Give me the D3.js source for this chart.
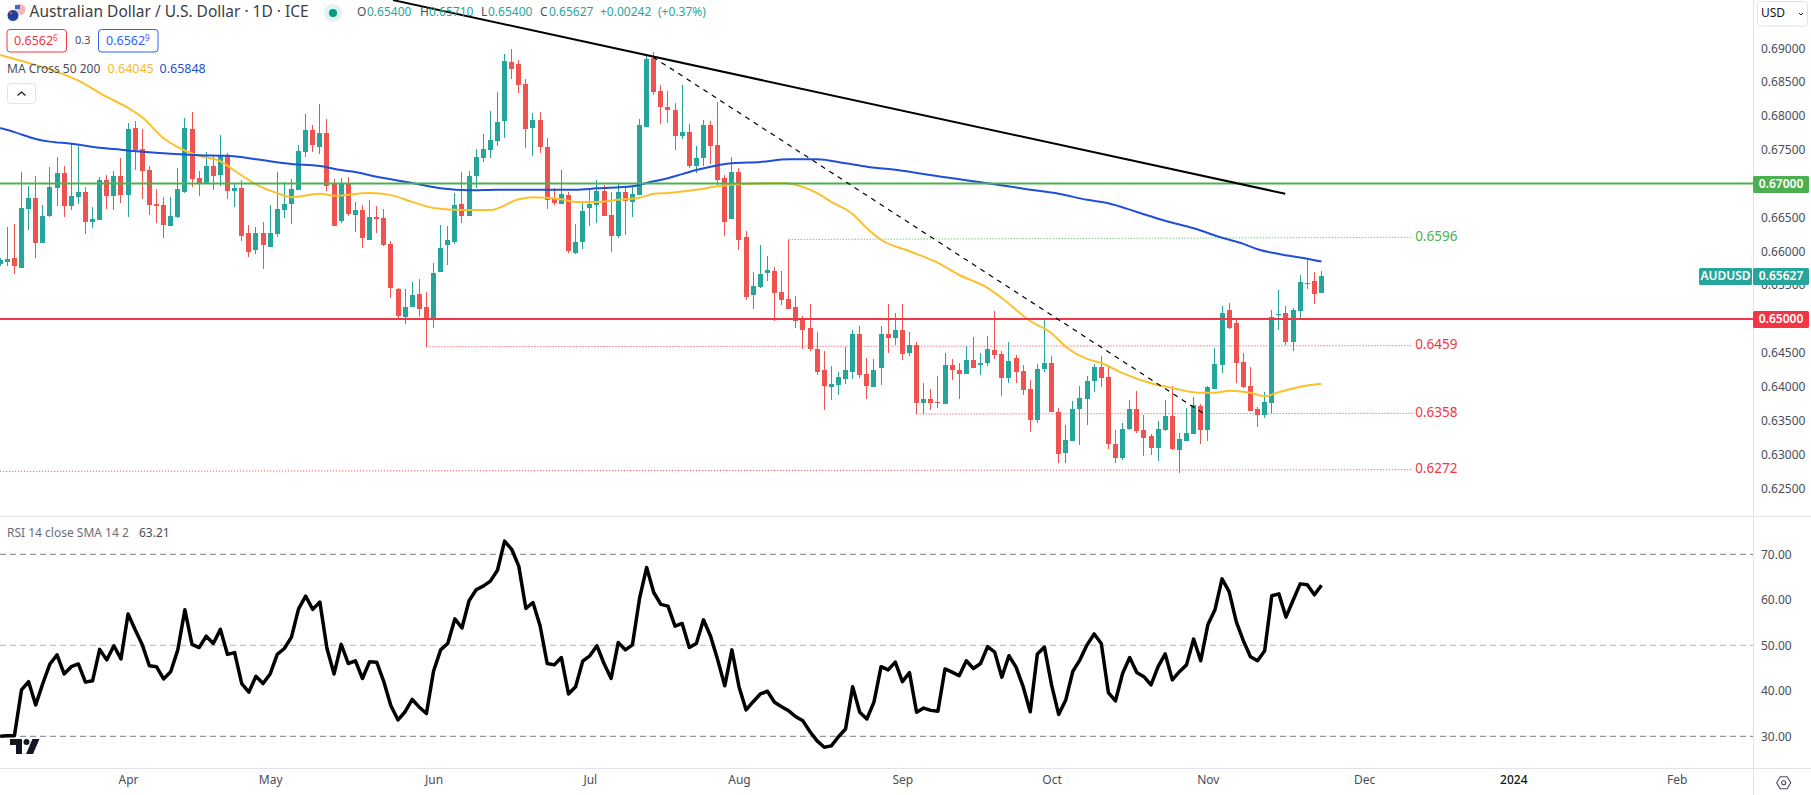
<!DOCTYPE html>
<html>
<head>
<meta charset="utf-8">
<script src="https://cdn.jsdelivr.net/npm/d3@7"></script>
<style>
    body { margin: 0; background: #fff; }
    svg { display: block; }
    text { font-family: "Noto Sans", sans-serif; }
    .domain { display: none; }
</style>
</head>
<body>
<div id="chart"></div>
<script>
//Daily candles, in units of 0.0001
const opens = [
    6581, 6584, 6590, 6576, 6663, 6679, 6612, 6652, 6694, 6716,
    6667, 6680, 6688, 6643, 6646, 6705, 6682, 6711, 6683, 6782,
    6751, 6720, 6670, 6668, 6638, 6651, 6688, 6781, 6708, 6700,
    6726, 6713, 6741, 6689, 6694, 6627, 6602, 6627, 6607, 6626,
    6661, 6670, 6691, 6747, 6779, 6754, 6775, 6701, 6645, 6700,
    6654, 6661, 6617, 6651, 6649, 6611, 6545, 6503, 6517, 6537,
    6517, 6500, 6570, 6610, 6614, 6670, 6652, 6711, 6738, 6750,
    6763, 6793, 6880, 6877, 6847, 6782, 6794, 6754, 6678, 6670,
    6683, 6598, 6614, 6664, 6669, 6689, 6654, 6623, 6688, 6673,
    6683, 6784, 6886, 6837, 6813, 6809, 6770, 6776, 6726, 6738,
    6787, 6757, 6708, 6648, 6717, 6621, 6536, 6547, 6568, 6571,
    6540, 6530, 6517, 6500, 6487, 6455, 6424, 6400, 6403, 6412,
    6422, 6478, 6419, 6400, 6427, 6478, 6472, 6484, 6450, 6462,
    6376, 6382, 6378, 6375, 6432, 6425, 6419, 6440, 6432, 6435,
    6454, 6448, 6413, 6443, 6423, 6397, 6351, 6426, 6435, 6363,
    6302, 6320, 6367, 6382, 6409, 6429, 6414, 6316, 6295, 6338,
    6367, 6336, 6327, 6310, 6336, 6357, 6307, 6320, 6330, 6372,
    6336, 6397, 6432, 6513, 6494, 6437, 6401, 6367, 6358, 6376,
    6506, 6509, 6466, 6512, 6553, 6556, 6538
];
const highs = [
    6590, 6636, 6640, 6717, 6697, 6711, 6668, 6725, 6739, 6726,
    6759, 6756, 6695, 6666, 6710, 6713, 6719, 6738, 6790, 6793,
    6781, 6726, 6692, 6680, 6680, 6723, 6797, 6806, 6719, 6747,
    6741, 6772, 6745, 6700, 6705, 6639, 6636, 6643, 6669, 6717,
    6703, 6707, 6757, 6803, 6787, 6818, 6796, 6707, 6709, 6710,
    6673, 6669, 6676, 6667, 6663, 6615, 6546, 6545, 6555, 6559,
    6540, 6582, 6639, 6638, 6686, 6717, 6719, 6751, 6773, 6807,
    6835, 6892, 6899, 6883, 6855, 6804, 6806, 6768, 6694, 6720,
    6688, 6641, 6672, 6692, 6706, 6698, 6688, 6700, 6697, 6695,
    6796, 6892, 6894, 6846, 6837, 6819, 6846, 6788, 6756, 6794,
    6793, 6821, 6713, 6739, 6723, 6630, 6570, 6610, 6593, 6577,
    6571, 6617, 6534, 6505, 6522, 6481, 6452, 6430, 6422, 6459,
    6484, 6489, 6443, 6441, 6489, 6522, 6509, 6522, 6481, 6466,
    6406, 6396, 6416, 6450, 6441, 6435, 6460, 6474, 6450, 6475,
    6512, 6453, 6466, 6447, 6432, 6410, 6434, 6502, 6445, 6369,
    6344, 6379, 6401, 6416, 6434, 6445, 6432, 6336, 6347, 6381,
    6394, 6358, 6330, 6350, 6381, 6401, 6332, 6369, 6385, 6375,
    6401, 6457, 6519, 6524, 6499, 6450, 6429, 6370, 6392, 6513,
    6543, 6519, 6516, 6565, 6590, 6569, 6571
];
const lows = [
    6578, 6578, 6566, 6576, 6632, 6590, 6612, 6651, 6667, 6651,
    6661, 6670, 6626, 6635, 6646, 6663, 6661, 6672, 6651, 6720,
    6677, 6654, 6642, 6620, 6638, 6649, 6686, 6695, 6682, 6700,
    6691, 6697, 6677, 6666, 6615, 6592, 6596, 6574, 6607, 6621,
    6649, 6641, 6691, 6739, 6747, 6744, 6689, 6637, 6642, 6652,
    6629, 6605, 6617, 6627, 6608, 6531, 6500, 6492, 6517, 6503,
    6459, 6486, 6570, 6580, 6611, 6642, 6652, 6694, 6732, 6738,
    6756, 6768, 6855, 6834, 6753, 6741, 6745, 6663, 6669, 6670,
    6598, 6596, 6604, 6638, 6642, 6652, 6599, 6620, 6624, 6651,
    6683, 6784, 6831, 6788, 6790, 6750, 6766, 6723, 6716, 6726,
    6729, 6698, 6623, 6648, 6602, 6528, 6515, 6546, 6556, 6497,
    6521, 6515, 6487, 6455, 6453, 6418, 6366, 6381, 6388, 6404,
    6412, 6413, 6382, 6400, 6403, 6450, 6462, 6440, 6446, 6359,
    6359, 6365, 6369, 6375, 6410, 6382, 6419, 6427, 6418, 6430,
    6441, 6386, 6406, 6406, 6388, 6333, 6347, 6422, 6363, 6288,
    6288, 6320, 6314, 6344, 6392, 6400, 6308, 6288, 6292, 6336,
    6332, 6298, 6299, 6290, 6335, 6307, 6273, 6320, 6330, 6316,
    6320, 6397, 6420, 6485, 6406, 6398, 6364, 6341, 6354, 6361,
    6484, 6462, 6453, 6502, 6544, 6522, 6538
];
const closes = [
    6587, 6589, 6578, 6664, 6679, 6612, 6652, 6695, 6716, 6667,
    6682, 6688, 6643, 6648, 6705, 6682, 6711, 6683, 6781, 6750,
    6719, 6668, 6667, 6639, 6652, 6692, 6782, 6707, 6700, 6726,
    6711, 6742, 6689, 6694, 6623, 6599, 6627, 6610, 6627, 6663,
    6670, 6692, 6748, 6779, 6757, 6775, 6697, 6638, 6700, 6655,
    6661, 6620, 6651, 6648, 6610, 6546, 6505, 6518, 6536, 6515,
    6500, 6568, 6605, 6617, 6669, 6652, 6711, 6739, 6751, 6765,
    6791, 6881, 6869, 6846, 6781, 6794, 6754, 6676, 6672, 6685,
    6601, 6614, 6660, 6670, 6689, 6652, 6623, 6688, 6675, 6685,
    6787, 6884, 6835, 6813, 6809, 6770, 6776, 6726, 6738, 6787,
    6756, 6706, 6644, 6717, 6617, 6533, 6549, 6567, 6573, 6539,
    6528, 6515, 6497, 6484, 6455, 6422, 6401, 6404, 6415, 6424,
    6478, 6418, 6401, 6425, 6478, 6472, 6484, 6449, 6462, 6376,
    6382, 6376, 6376, 6432, 6424, 6419, 6440, 6428, 6435, 6455,
    6447, 6413, 6438, 6422, 6395, 6351, 6426, 6435, 6363, 6301,
    6321, 6367, 6383, 6409, 6429, 6413, 6316, 6295, 6338, 6367,
    6335, 6324, 6310, 6338, 6357, 6308, 6323, 6332, 6373, 6336,
    6400, 6434, 6509, 6487, 6435, 6400, 6364, 6358, 6378, 6503,
    6507, 6466, 6513, 6555, 6552, 6537, 6563
];

//Moving averages, read at these bar numbers
const ma50Bars = [0, 5, 8, 11, 15, 18, 20, 23, 25, 28, 31, 33, 36, 39, 41, 45, 47, 52, 55, 58, 61, 65, 69, 73, 75, 79, 81, 84, 87, 90, 92, 94, 98, 101, 104, 110, 113, 115, 117, 120, 122, 124, 128, 132, 135, 139, 141, 145, 148, 150, 153, 155, 158, 162, 165, 169, 171, 173, 176, 178, 180, 183, 186];
const ma50 = [6890, 6875, 6865, 6852, 6828, 6812, 6798, 6767, 6754, 6741, 6733, 6719, 6699, 6686, 6680, 6685, 6682, 6686, 6683, 6673, 6664, 6661, 6661, 6677, 6680, 6677, 6673, 6673, 6676, 6679, 6685, 6686, 6691, 6696, 6699, 6701, 6695, 6686, 6673, 6655, 6634, 6617, 6600, 6583, 6565, 6546, 6531, 6497, 6479, 6459, 6441, 6435, 6420, 6405, 6398, 6391, 6391, 6394, 6391, 6386, 6392, 6400, 6404.5];
const ma200Bars = [0, 2, 5, 7, 10, 14, 17, 20, 24, 28, 32, 36, 41, 45, 48, 50, 53, 58, 62, 66, 70, 75, 81, 84, 89, 91, 94, 96, 98, 100, 103, 107, 111, 115, 119, 122, 127, 132, 136, 138, 145, 149, 153, 156, 160, 164, 168, 172, 175, 177, 180, 184, 186];
const ma200 = [6782, 6776, 6766, 6762, 6759, 6753, 6750, 6747, 6744, 6742, 6741, 6736, 6729, 6726, 6720, 6717, 6710, 6701, 6693, 6690, 6691, 6691, 6691, 6693, 6696, 6701, 6708, 6714, 6720, 6725, 6730, 6732, 6736, 6736, 6730, 6725, 6719, 6711, 6705, 6702, 6691, 6685, 6676, 6671, 6658, 6645, 6634, 6620, 6611, 6603, 6596, 6589, 6584.8];

//RSI, one value per bar
const rsi = [
    30.0, 30.1, 30.1, 40.2, 42.0, 36.9, 41.6, 45.9, 47.9, 43.7,
    45.3, 45.9, 41.9, 42.2, 49.1, 46.8, 49.9, 47.0, 56.9, 53.4,
    50.1, 45.5, 45.3, 42.6, 44.2, 49.0, 57.8, 50.2, 49.5, 52.0,
    50.4, 53.5, 48.0, 48.4, 41.6, 39.7, 43.2, 41.6, 43.7, 48.0,
    49.3, 51.8, 58.0, 60.8, 57.9, 59.5, 49.3, 43.7, 50.2, 46.0,
    46.6, 42.7, 46.4, 46.3, 42.0, 36.7, 33.6, 35.4, 38.1, 36.4,
    35.0, 44.3, 49.0, 50.4, 55.8, 53.8, 59.8, 62.2, 63.0, 64.1,
    66.5, 72.9, 71.1, 67.4, 58.1, 59.4, 54.3, 46.0, 45.7, 47.3,
    39.3, 40.9, 46.5, 47.7, 49.9, 46.0, 42.7, 50.6, 49.0, 50.1,
    60.3, 67.1, 61.6, 59.0, 58.6, 54.2, 54.8, 49.5, 50.4, 55.6,
    52.0, 46.8, 41.1, 49.0, 40.9, 35.8, 37.6, 39.3, 39.9, 37.5,
    36.5, 35.6, 34.3, 33.4, 31.0, 29.0, 27.6, 27.9, 29.9, 31.6,
    40.9, 35.3, 33.8, 37.5, 45.3, 44.6, 46.3, 42.0, 44.0, 35.3,
    36.2, 35.7, 35.5, 44.8, 44.1, 43.3, 46.6, 44.9, 46.0, 49.7,
    48.5, 43.0, 47.7, 45.2, 40.9, 35.4, 48.1, 49.6, 41.3, 34.8,
    38.0, 44.3, 46.8, 50.1, 52.5, 50.4, 39.6, 37.8, 43.8, 47.3,
    44.0, 43.1, 41.3, 45.3, 48.1, 42.4, 44.2, 45.7, 51.4, 46.6,
    54.5, 57.8, 64.6, 61.8, 55.2, 51.0, 47.5, 46.6, 48.8, 60.9,
    61.3, 56.2, 59.9, 63.5, 63.3, 61.1, 63.21
];

//Axis ticks
const priceTicks = [0.625, 0.63, 0.635, 0.64, 0.645, 0.65, 0.655, 0.66, 0.665, 0.67, 0.675, 0.68, 0.685, 0.69];
const rsiTicks = [30, 40, 50, 60, 70];
const rsiLevels = [70, 50, 30];
const timeBars = [18, 38, 61, 83, 104, 127, 148, 170, 192, 213, 236];
const timeLabels = ["Apr", "May", "Jun", "Jul", "Aug", "Sep", "Oct", "Nov", "Dec", "2024", "Feb"];

//Drawn lines: support, resistance and the two trend lines
const solidLevels = [0.67, 0.65];
const dottedStartBars = [111, 60, 129, 0];
const dottedEndBar = 198.9;
const dottedStart = [0.66174, 0.64591, 0.63597, 0.62750];
const dottedEnd = [0.66207, 0.64606, 0.63607, 0.62774];
const dottedLabels = ["0.6596", "0.6459", "0.6358", "0.6272"];
const trendBars = [55.3, 180.9];
const trendPrices = [0.6971, 0.6685];
const dashBars = [91.9, 169.3];
const dashPrices = [0.6887, 0.6361];

const width = 1811;
const height = 795;
const axisX = 1753;
const mainBottom = 516;
const rsiBottom = 768;

const teal = "#26a69a";
const red = "#ef5350";
const lineRed = "#f23645";
const lineGreen = "#4caf50";
const borderColor = "#e0e3eb";
const labelColor = "#4a4d57";

const svg = d3.select("#chart").append("svg").attr("width", width).attr("height", height);

//Scales
const x = d3.scaleLinear().domain([0, 186]).range([0.2, 1321.5]);
const y = d3.scaleLinear().domain([0.625, 0.69]).range([488.25, 48.2]);
const yRsi = d3.scaleLinear().domain([30, 70]).range([736.3, 554.3]);

const defs = svg.append("defs");
defs.append("clipPath").attr("id", "mainClip").append("rect").attr("width", axisX).attr("height", mainBottom);
defs.append("clipPath").attr("id", "rsiClip").append("rect").attr("y", mainBottom).attr("width", axisX).attr("height", rsiBottom - mainBottom);

const main = svg.append("g").attr("clip-path", "url(#mainClip)");

//Dotted levels go under the candles
main.selectAll(".dotted")
    .data(dottedLabels)
    .enter().append("line")
    .attr("class", "dotted")
    .attr("x1", (d, i) => x(dottedStartBars[i]))
    .attr("x2", x(dottedEndBar))
    .attr("y1", (d, i) => y(dottedStart[i]))
    .attr("y2", (d, i) => y(dottedEnd[i]))
    .attr("stroke", (d, i) => i === 0 ? lineGreen : lineRed)
    .attr("stroke-width", 1)
    .attr("stroke-dasharray", "1 2");

//Candles
const candles = main.selectAll(".candle")
    .data(opens)
    .enter().append("g")
    .attr("class", "candle")
    .attr("fill", (d, i) => closes[i] >= d ? teal : red)
    .attr("shape-rendering", "crispEdges");

candles.append("rect")
    .attr("x", (d, i) => Math.floor(x(i)))
    .attr("width", 1)
    .attr("y", (d, i) => y(highs[i] / 10000))
    .attr("height", (d, i) => y(lows[i] / 10000) - y(highs[i] / 10000));

candles.append("rect")
    .attr("x", (d, i) => Math.floor(x(i)) - 2)
    .attr("width", 5)
    .attr("y", (d, i) => y(Math.max(d, closes[i]) / 10000))
    .attr("height", (d, i) => Math.max(1, Math.abs(y(d / 10000) - y(closes[i] / 10000))));

//Moving averages
const maLine = (bars) => d3.line().x((d, i) => x(bars[i])).y(d => y(d / 10000)).curve(d3.curveMonotoneX);

main.append("path").attr("d", maLine(ma50Bars)(ma50)).attr("fill", "none").attr("stroke", "#fbc02d").attr("stroke-width", 2);
main.append("path").attr("d", maLine(ma200Bars)(ma200)).attr("fill", "none").attr("stroke", "#1f4fd8").attr("stroke-width", 2);

//Solid levels
main.selectAll(".level")
    .data(solidLevels)
    .enter().append("line")
    .attr("class", "level")
    .attr("x1", 0)
    .attr("x2", axisX)
    .attr("y1", d => y(d))
    .attr("y2", d => y(d))
    .attr("stroke", (d, i) => i === 0 ? lineGreen : lineRed)
    .attr("stroke-width", 2);

//Trend lines
main.append("line")
    .attr("x1", x(trendBars[0])).attr("y1", y(trendPrices[0]))
    .attr("x2", x(trendBars[1])).attr("y2", y(trendPrices[1]))
    .attr("stroke", "#000").attr("stroke-width", 2);

main.append("line")
    .attr("x1", x(dashBars[0])).attr("y1", y(dashPrices[0]))
    .attr("x2", x(dashBars[1])).attr("y2", y(dashPrices[1]))
    .attr("stroke", "#000").attr("stroke-width", 1.2).attr("stroke-dasharray", "5 5");

//Labels at the end of the dotted levels
svg.selectAll(".dottedLabel")
    .data(dottedLabels)
    .enter().append("text")
    .attr("class", "dottedLabel")
    .attr("x", x(dottedEndBar) + 2)
    .attr("y", (d, i) => y(dottedEnd[i]))
    .attr("dominant-baseline", "middle")
    .attr("fill", (d, i) => i === 0 ? lineGreen : lineRed)
    .style("font-size", "13.5px")
    .text(d => d);

//RSI pane
const rsiPane = svg.append("g").attr("clip-path", "url(#rsiClip)");

rsiPane.selectAll(".rsiLevel")
    .data(rsiLevels)
    .enter().append("line")
    .attr("class", "rsiLevel")
    .attr("x1", 0)
    .attr("x2", axisX)
    .attr("y1", d => yRsi(d))
    .attr("y2", d => yRsi(d))
    .attr("stroke", d => d === 50 ? "#b2b5be" : "#787b86")
    .attr("stroke-dasharray", "6 4");

rsiPane.append("path")
    .datum(rsi)
    .attr("d", d3.line().x((d, i) => x(i)).y(d => yRsi(d)))
    .attr("fill", "none")
    .attr("stroke", "#000")
    .attr("stroke-width", 3.5)
    .attr("stroke-linejoin", "round");

//Pane borders
[[0, mainBottom, axisX + 58, mainBottom], [0, rsiBottom, axisX + 58, rsiBottom], [axisX, 0, axisX, height]].forEach(l => {
    svg.append("line").attr("x1", l[0]).attr("y1", l[1]).attr("x2", l[2]).attr("y2", l[3])
        .attr("stroke", borderColor).attr("shape-rendering", "crispEdges");
});

//Axes
const priceAxis = svg.append("g")
    .attr("transform", `translate(${axisX}, 0)`)
    .call(d3.axisRight(y).tickValues(priceTicks).tickFormat(d3.format(".5f")).tickSize(0).tickPadding(8));

const rsiAxis = svg.append("g")
    .attr("transform", `translate(${axisX}, 0)`)
    .call(d3.axisRight(yRsi).tickValues(rsiTicks).tickFormat(d3.format(".2f")).tickSize(0).tickPadding(8));

const timeAxis = svg.append("g")
    .attr("transform", `translate(0, ${rsiBottom})`)
    .call(d3.axisBottom(x).tickValues(timeBars).tickFormat((d, i) => timeLabels[i]).tickSize(0).tickPadding(7));

[priceAxis, rsiAxis, timeAxis].forEach(a => {
    a.selectAll("text").attr("fill", labelColor).style("font-family", '"Noto Sans", sans-serif').style("font-size", "12px");
});
timeAxis.selectAll("text").filter((d, i) => timeLabels[i] === "2024").attr("fill", "#131722").style("font-weight", 500);

//Tags on the price axis
const tag = (tx, tw, cy, color, label) => {
    svg.append("rect").attr("x", tx).attr("y", cy - 8.5).attr("width", tw).attr("height", 17).attr("rx", 1.5).attr("fill", color);
    svg.append("text").attr("x", tx + tw / 2).attr("y", cy).attr("text-anchor", "middle").attr("dominant-baseline", "middle")
        .attr("fill", "#fff").style("font-size", "12px").style("font-weight", 600).text(label);
};
tag(axisX, 56, y(0.67) + 0.8, lineGreen, "0.67000");
tag(axisX, 56, y(0.65) + 0.5, lineRed, "0.65000");
tag(1699, 53, 276.5, teal, "AUDUSD");
tag(axisX, 56, 276.5, teal, "0.65627");

//Currency button
svg.append("rect").attr("x", 1757.5).attr("y", 1.5).attr("width", 50).attr("height", 24.5).attr("rx", 3).attr("fill", "#fff").attr("stroke", borderColor);
svg.append("text").attr("x", 1761).attr("y", 14).attr("dominant-baseline", "middle").attr("fill", "#131722").style("font-size", "12px").text("USD");
svg.append("path").attr("d", "M1799 13l2 2l2 -2").attr("fill", "none").attr("stroke", "#131722");

//Legend header
const legendText = (tx, ty, color, size, label) => svg.append("text")
    .attr("x", tx).attr("y", ty).attr("dominant-baseline", "middle").attr("fill", color)
    .style("font-size", size + "px").text(label);

//Currency icons
svg.append("circle").attr("cx", 20).attr("cy", 9.5).attr("r", 5.5).attr("fill", "#f4b6b6");
svg.append("rect").attr("x", 15).attr("y", 5).attr("width", 5).attr("height", 4).attr("fill", "#3c6fc4");
svg.append("circle").attr("cx", 13).attr("cy", 15.5).attr("r", 6).attr("fill", "#1f3f9c").attr("stroke", "#fff");
svg.append("circle").attr("cx", 11).attr("cy", 13).attr("r", 1.3).attr("fill", "#e34d4d");

legendText(29.5, 13, "#3b3e47", 15.5, "Australian Dollar / U.S. Dollar · 1D · ICE");
svg.append("circle").attr("cx", 333).attr("cy", 13).attr("r", 9).attr("fill", "#e0f3ef");
svg.append("circle").attr("cx", 333).attr("cy", 13).attr("r", 4).attr("fill", "#089981");

const ohlcX = [357, 367, 420, 429, 481, 488, 540, 549, 600, 658];
const ohlcText = ["O", "0.65400", "H", "0.65710", "L", "0.65400", "C", "0.65627", "+0.00242", "(+0.37%)"];
ohlcText.forEach((t, i) => legendText(ohlcX[i], 13, i % 2 === 0 && i < 8 ? "#4a4d57" : teal, 12, t));

//Buy and sell boxes
svg.append("rect").attr("x", 7).attr("y", 29.5).attr("width", 59.5).attr("height", 22.5).attr("rx", 3).attr("fill", "#fff").attr("stroke", lineRed);
svg.append("rect").attr("x", 98.5).attr("y", 29.5).attr("width", 59.5).attr("height", 22.5).attr("rx", 3).attr("fill", "#fff").attr("stroke", "#2962ff");
const sell = legendText(14, 41.5, lineRed, 12.5, "0.6562");
sell.append("tspan").attr("dy", -3).style("font-size", "8px").text("6");
const buy = legendText(106, 41.5, "#2962ff", 12.5, "0.6562");
buy.append("tspan").attr("dy", -3).style("font-size", "8px").text("9");
legendText(75, 41, "#4a4d57", 11, "0.3");

legendText(7, 69.5, "#4a4d57", 12, "MA Cross 50 200");
legendText(107.5, 69.5, "#f9b92b", 12.5, "0.64045");
legendText(159.5, 69.5, "#2451d6", 12.5, "0.65848");

//Collapse button
svg.append("rect").attr("x", 7.5).attr("y", 83.5).attr("width", 28).attr("height", 20).attr("rx", 3).attr("fill", "#fff").attr("stroke", borderColor);
svg.append("path").attr("d", "M17.5 95.5l4 -3.5l4 3.5").attr("fill", "none").attr("stroke", "#131722").attr("stroke-width", 1.2);

legendText(7, 534, "#6a6d78", 12, "RSI 14 close SMA 14 2");
legendText(139, 534, "#4a4d57", 12, "63.21");

//Logo in the corner
const logo = svg.append("g").attr("transform", "translate(10, 739)").attr("fill", "#131722");
logo.append("path").attr("d", "M0 0h12v15h-6v-9h-6z");
logo.append("circle").attr("cx", 16.5).attr("cy", 3).attr("r", 3);
logo.append("path").attr("d", "M22.5 0h7l-6.5 15h-7z");

//Settings icon
const cog = svg.append("g").attr("transform", "translate(1783.7, 782.7)").attr("fill", "none").attr("stroke", "#4a4d57").attr("stroke-width", 1.1);
cog.append("path").attr("d", "M-7 0L-3.5 -6H3.5L7 0L3.5 6H-3.5Z");
cog.append("circle").attr("r", 2);
</script>
</body>
</html>
